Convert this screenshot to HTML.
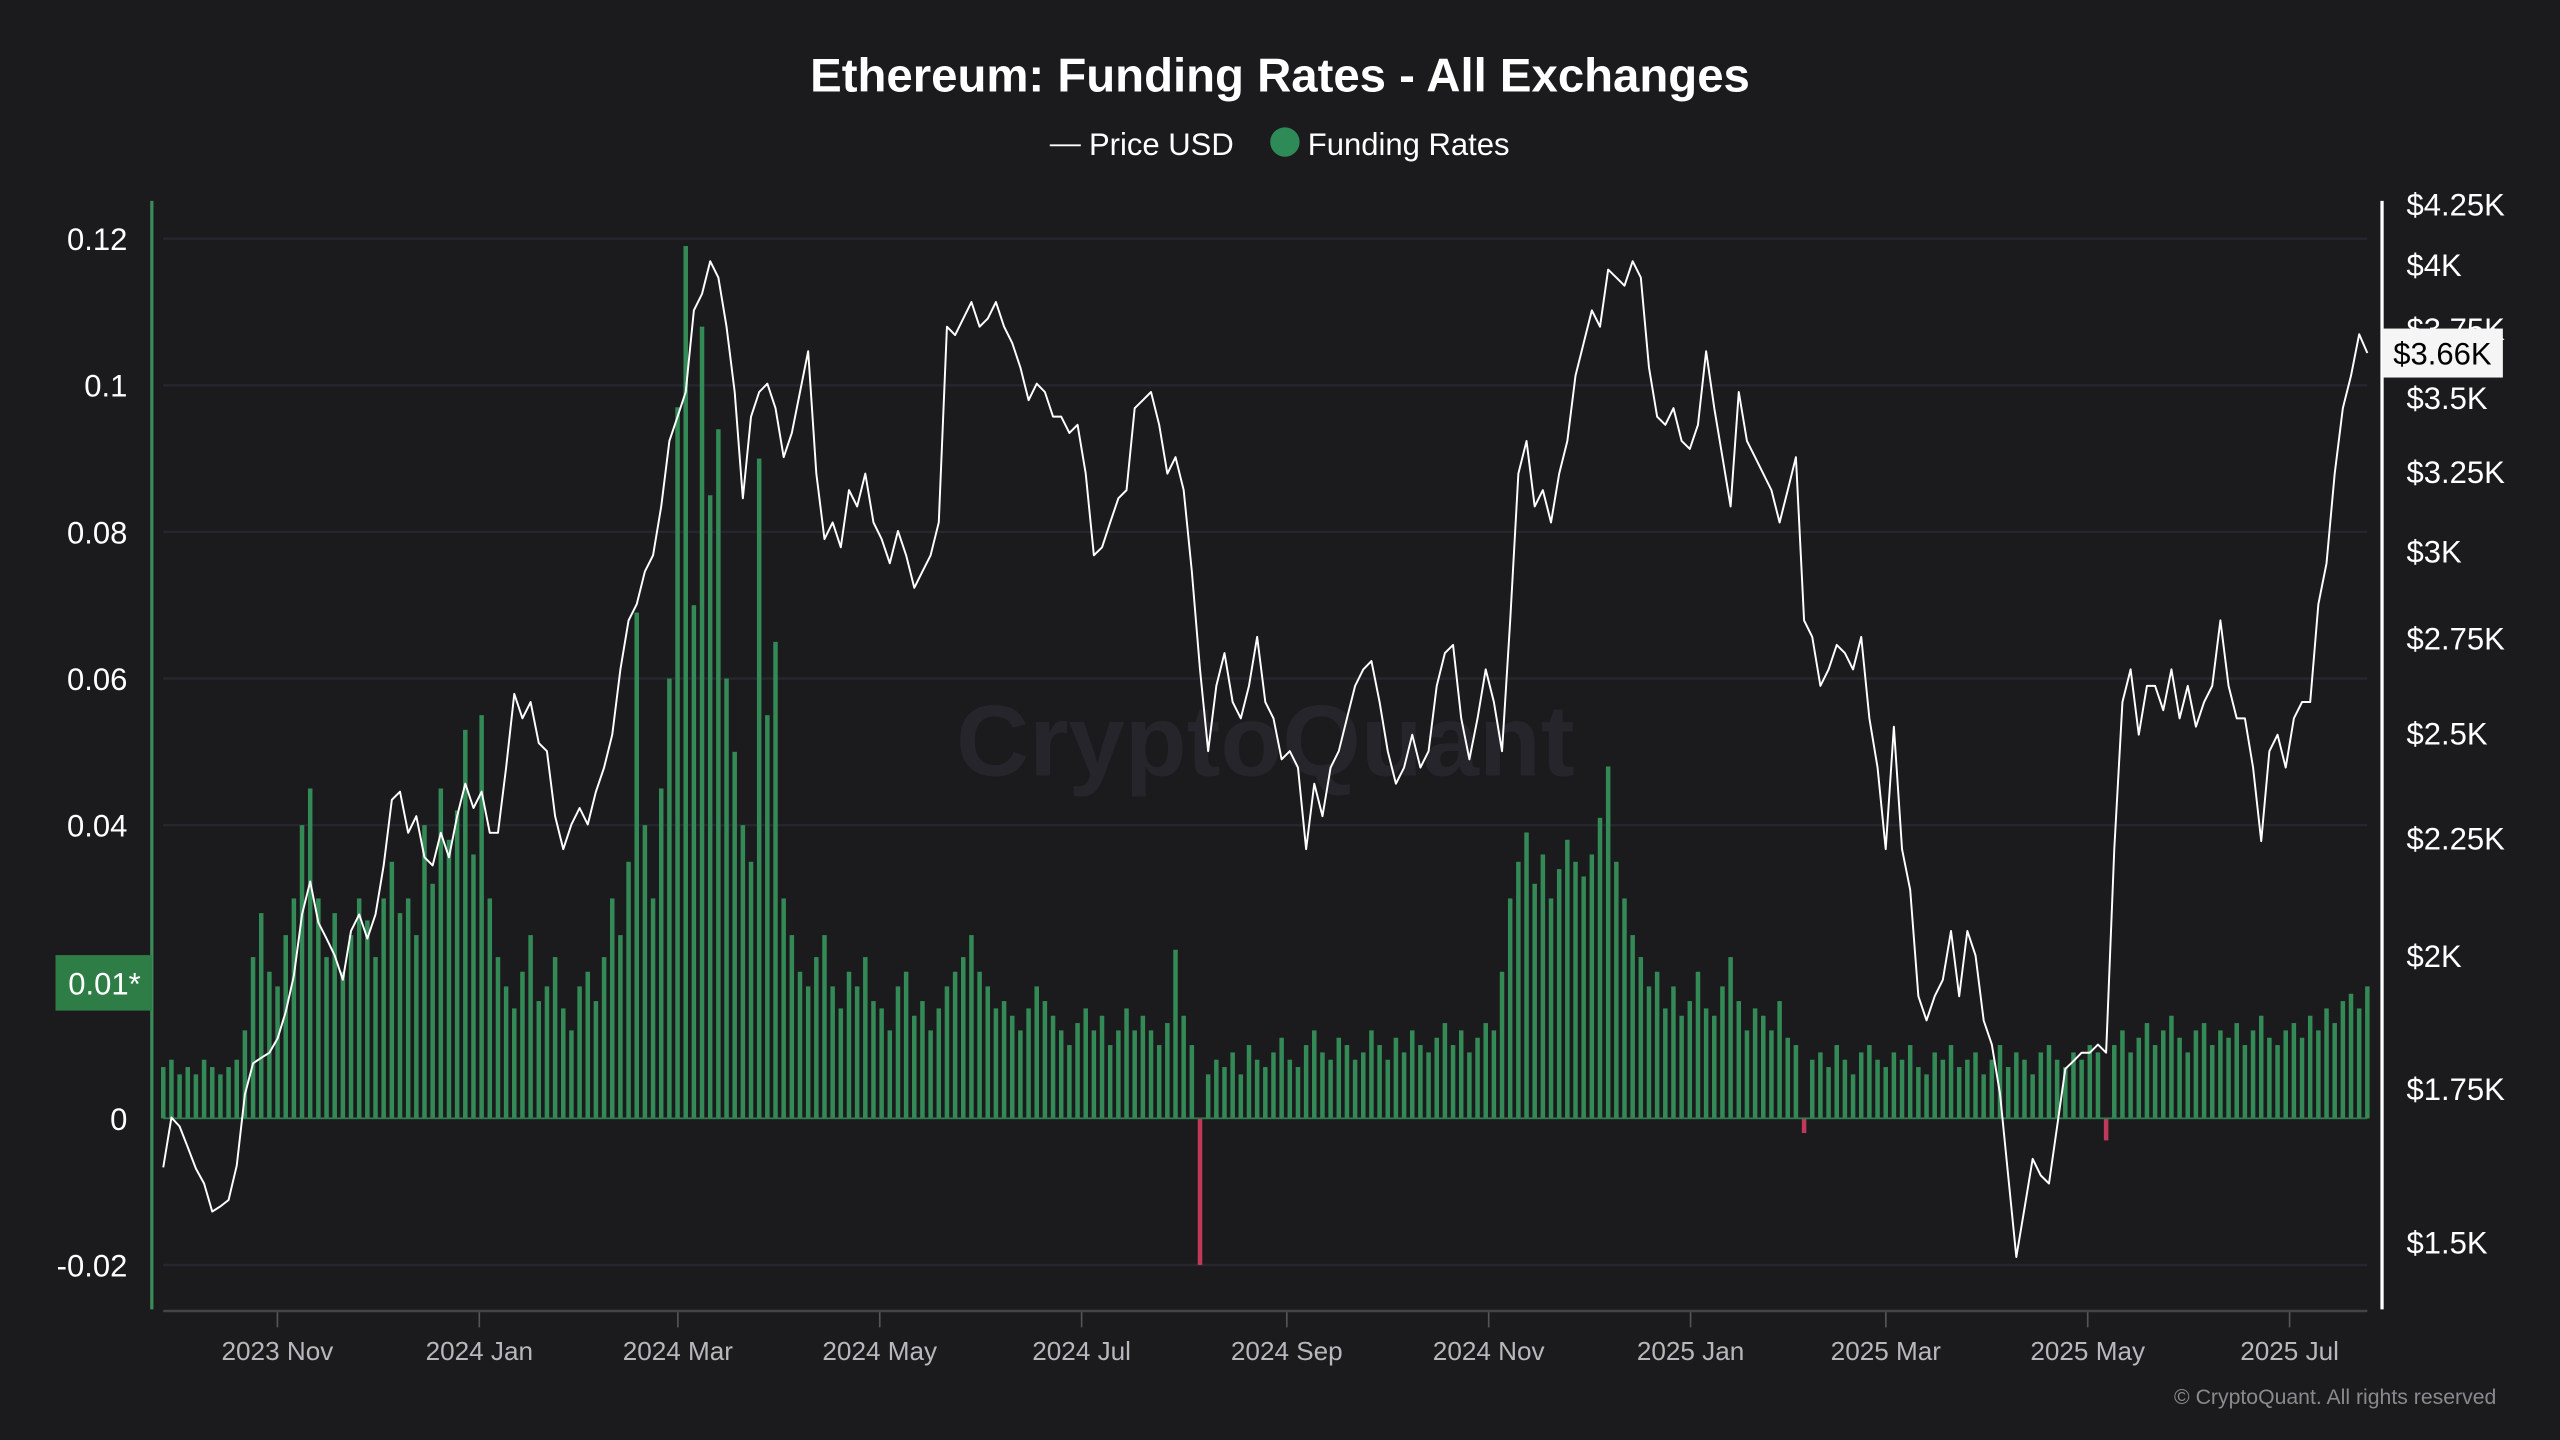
<!DOCTYPE html>
<html><head><meta charset="utf-8"><style>
html,body{margin:0;padding:0;background:#1b1b1d;}
svg{display:block;font-family:"Liberation Sans",sans-serif;}
</style></head><body>
<svg id="chart" width="2560" height="1440" viewBox="0 0 1568 882" xmlns="http://www.w3.org/2000/svg">
<rect x="0" y="0" width="1568" height="882" fill="#1b1b1d"/>
<text x="784" y="56" text-anchor="middle" fill="#ffffff" font-size="29" font-weight="bold">Ethereum: Funding Rates - All Exchanges</text>
<g>
<line x1="643" y1="89" x2="662" y2="89" stroke="#ffffff" stroke-width="1.2"/>
<text x="667" y="95" fill="#ffffff" font-size="19">Price USD</text>
<circle cx="787" cy="87" r="9" fill="#2e8b57"/>
<text x="801" y="95" fill="#ffffff" font-size="19">Funding Rates</text>
</g>
<text x="775" y="475" text-anchor="middle" fill="#25252b" font-size="62" font-weight="bold">CryptoQuant</text>
<g id="grid"></g>
<g id="bars"></g>
<g id="line"></g>
<g id="axes"></g>
<text x="1529" y="860" text-anchor="end" fill="#8a8a8e" font-size="13">© CryptoQuant. All rights reserved</text>
</svg>
<script>
const leftTicks = [0.12, 0.1, 0.08, 0.06, 0.04, 0, -0.02];
const leftTickLabels = ["0.12", "0.1", "0.08", "0.06", "0.04", "0", "-0.02"];
const rightTicks = [4250, 4000, 3750, 3500, 3250, 3000, 2750, 2500, 2250, 2000, 1750, 1500];
const rightTickLabels = ["$4.25K", "$4K", "$3.75K", "$3.5K", "$3.25K", "$3K", "$2.75K", "$2.5K", "$2.25K", "$2K", "$1.75K", "$1.5K"];
const xTickLabels = ["2023 Nov", "2024 Jan", "2024 Mar", "2024 May", "2024 Jul", "2024 Sep", "2024 Nov", "2025 Jan", "2025 Mar", "2025 May", "2025 Jul"];
const xTickDays = [34, 95, 155, 216, 277, 339, 400, 461, 520, 581, 642];
const totalDays = 665;
const price = [1617,1700,1685,1650,1615,1591,1547,1555,1565,1620,1740,1795,1805,1814,1840,1890,1960,2084,
2154,2067,2034,2000,1952,2050,2084,2034,2084,2189,2338,2357,2262,2300,2207,2189,2262,2207,2300,2376,2319,2357,2262,2262,2415,2600,2537,2579,2475,2455,2300,2225,2281,2319,2281,2357,2415,2496,2665,2799,2845,2940,2988,3138,3351,3434,3520,3820,3884,4013,3948,3758,3520,3164,3434,3520,3549,3463,3297,3378,3520,3667,3243,3037,3088,3012,3190,3138,3243,3088,3037,2964,3062,2988,2892,2940,2988,3088,3758,3727,3789,3852,3758,3789,3852,3758,3697,3607,3491,3549,3520,3434,3434,3378,3406,3243,2988,3012,3088,3164,3190,3463,3491,3520,3406,3243,3297,3190,2940,2665,2455,2621,2709,2579,2537,2621,2753,2579,2537,2435,2455,2415,2225,2376,2300,2415,2455,2537,2621,2665,2687,2579,2455,2376,2415,2496,2415,2455,2621,2709,2731,2537,2435,2537,2665,2579,2455,2799,3243,3351,3138,3190,3088,3243,3351,3578,3697,3820,3758,3980,3948,3916,4013,3948,3607,3434,3406,3463,3351,3324,3406,3667,3463,3297,3138,3520,3351,3297,3243,3190,3088,3190,3297,2799,2753,2621,2665,2731,2709,2665,2753,2537,2415,2225,2516,2225,2136,1920,1874,1920,1952,2050,1920,2050,2000,1874,1829,1741,1604,1478,1552,1631,1604,1591,1685,1785,1799,1814,1814,1829,1814,2225,2579,2665,2496,2621,2621,2558,2665,2537,2621,2516,2579,2621,2799,2621,2537,2537,2415,2243,2455,2496,2415,2537,2579,2579,2845,2964,3243,3463,3578,3730,3660];
const funding = [.007,.008,.006,.007,.006,.008,.007,.006,.007,.008,.012,
.022,.028,.020,.018,.025,.030,.040,
.045,.030,.022,.028,.020,.025,.030,.027,.022,.030,
.035,.028,.030,.025,.040,.032,.045,.038,.042,.053,.036,.055,
.030,.022,.018,.015,.020,.025,.016,.018,.022,.015,.012,.018,.020,.016,
.022,.030,.025,.035,.069,.040,.030,.045,
.060,.097,.119,.070,.108,.085,.094,.060,
.050,.040,.035,.090,.055,.065,
.030,.025,.020,.018,.022,.025,.018,.015,.020,.018,.022,.016,
.015,.012,.018,.020,.014,.016,.012,.015,.018,.020,.022,.025,
.020,.018,.015,.016,.014,.012,.015,.018,.016,.014,.012,.010,.013,.015,.012,.014,.010,.012,.015,.012,
.014,.012,.010,.013,.023,.014,.010,
-.020,
.006,.008,.007,.009,.006,.010,.008,.007,.009,.011,.008,.007,.010,.012,.009,.008,.011,.010,.008,.009,.012,.010,.008,.011,.009,.012,.010,.009,.011,.013,.010,.012,.009,.011,.013,.012,
.020,.030,.035,.039,.032,.036,.030,.034,.038,.035,.033,.036,.041,.048,.035,.030,
.025,.022,.018,.020,.015,.018,.014,.016,.020,.015,.014,.018,.022,.016,.012,.015,.014,.012,.016,.011,
.010,-.002,
.008,.009,.007,.010,.008,.006,.009,.010,.008,.007,.009,.008,.010,.007,.006,.009,.008,.010,.007,.008,.009,.006,.008,.010,.007,.009,.008,.006,.009,.010,.008,.007,.009,.008,.010,.009,
-.003,
.010,.012,.009,.011,.013,.010,.012,.014,.011,.009,.012,.013,.010,.012,.011,.013,.010,.012,.014,.011,.010,.012,.013,.011,.014,.012,.015,.013,.016,.017,.015,.018];

const NS = "http://www.w3.org/2000/svg";
const X0 = 100, X1 = 1450;
function yLeft(v){ return 685 - v * 4490; }
function yRight(p){ return 162 + 610.6 * Math.log(4000 / p); }
function xDay(d){ return 101 + d * (1348 / totalDays); }
function xIdx(i, n){ return X0 + i * (X1 - X0) / (n - 1); }
function mk(tag, attrs, parent){
  const el = document.createElementNS(NS, tag);
  for (const k in attrs) el.setAttribute(k, attrs[k]);
  parent.appendChild(el);
  return el;
}
const grid = document.getElementById('grid');
const bars = document.getElementById('bars');
const lineG = document.getElementById('line');
const axes = document.getElementById('axes');

leftTicks.forEach((v, i) => {
  const y = yLeft(v);
  const g = mk('line', {x1: X0, x2: X1, y1: y, y2: y, stroke: '#26262e', 'stroke-width': 1.5}, grid);
  
  
  const t = mk('text', {x: 78, y: y + 7, 'text-anchor': 'end', fill: '#ffffff', 'font-size': 19}, axes);
  t.textContent = leftTickLabels[i];
  
  
});
rightTicks.forEach((p, i) => {
  const t = mk('text', {x: 1474, y: yRight(p) + 7, fill: '#ffffff', 'font-size': 19}, axes);
  t.textContent = rightTickLabels[i];
  
  
});
xTickLabels.forEach((lab, i) => {
  const x = xDay(xTickDays[i]);
  const tk = mk('line', {x1: x, x2: x, y1: 803, y2: 813, stroke: '#555', 'stroke-width': 1}, axes);
  
  
  const t = mk('text', {x: x, y: 833, 'text-anchor': 'middle', fill: '#b8b8bc', 'font-size': 16}, axes);
  t.textContent = lab;
  
  
});

const nf = funding.length;
const bw = (X1 - X0) / (nf - 1) * 0.55;
const y0 = yLeft(0);
funding.forEach((v, i) => {
  const x = xIdx(i, nf);
  const y = yLeft(v);
  const b = mk('rect', {x: x - bw / 2, y: Math.min(y, y0), width: bw, height: Math.max(Math.abs(y0 - y), 0.5), fill: v >= 0 ? '#348a57' : '#c0395a'}, bars);
  
  
});
const zl = mk('line', {x1: X0, x2: X1, y1: y0, y2: y0, stroke: '#2f7d4e', 'stroke-width': 1}, bars);



const np = price.length;
const pts = price.map((p, i) => xIdx(i, np).toFixed(1) + ',' + yRight(p).toFixed(1)).join(' ');
const pl = mk('polyline', {points: pts, fill: 'none', stroke: '#ffffff', 'stroke-width': 1.2, 'stroke-linejoin': 'round'}, lineG);



const la = mk('line', {x1: 93, x2: 93, y1: 123, y2: 802, stroke: '#3a8a5a', 'stroke-width': 2}, axes);


const ra = mk('line', {x1: 1459, x2: 1459, y1: 123, y2: 802, stroke: '#ffffff', 'stroke-width': 2}, axes);


const xa = mk('line', {x1: X0, x2: X1, y1: 803, y2: 803, stroke: '#444', 'stroke-width': 1.5}, axes);



const lastP = price[np - 1];
const lb = mk('rect', {x: 1459, y: yRight(lastP) - 15, width: 74, height: 30, fill: '#f5f5f5'}, axes);


const lt = mk('text', {x: 1496, y: yRight(lastP) + 7, 'text-anchor': 'middle', fill: '#000', 'font-size': 19}, axes);
lt.textContent = '$' + (lastP / 1000).toFixed(2) + 'K';



const markerY = 602;
const fb = mk('rect', {x: 34, y: markerY - 17, width: 59, height: 34, fill: '#2e7d46'}, axes);


const ft = mk('text', {x: 64, y: markerY + 7, 'text-anchor': 'middle', fill: '#ffffff', 'font-size': 19}, axes);
ft.textContent = '0.01*';


</script>
</body></html>
